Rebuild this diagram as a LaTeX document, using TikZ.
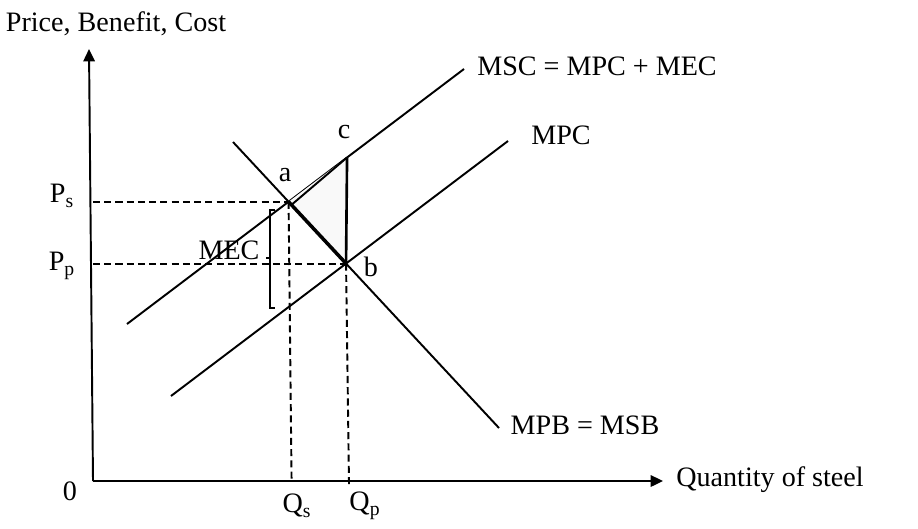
\documentclass[tikz,border=0pt]{standalone}
\usepackage{fontspec}
\setmainfont{Liberation Serif}
\usetikzlibrary{positioning}
\usetikzlibrary{intersections}
\usetikzlibrary{calc}
\usetikzlibrary{arrows.meta}

\begin{document}
\begin{tikzpicture}
	[x=0.02cm, y=-0.02cm, line width=1.1pt,
	txt/.style={inner sep=0pt, font=\fontsize{16}{18}\selectfont},
	guide/.style={line width=1.1pt, dash pattern=on 4pt off 2.4pt},
	axis/.style={-{Triangle[length=7pt, width=6.5pt]}}]
	\useasboundingbox (0,0) rectangle (918,528);

	% axes
	\coordinate (o) at (93,481);
	\coordinate (ytop) at (89,49);
	\coordinate (xend) at (663,481);
	\draw[axis] (o) -- (ytop);
	\draw[axis] (o) -- (xend);
	\node[txt] (yname) at (116,24) {Price, Benefit, Cost};
	\node[txt] (xname) at (770,480) {Quantity of steel};
	\node[txt] (zero) at (70,491) {0};

	% curves
	\coordinate (msc1) at (127,324);
	\coordinate (msc2) at (464,69);
	\coordinate (mpc1) at (171,396);
	\coordinate (mpc2) at (508,141);
	\coordinate (mpb1) at (233,142);
	\coordinate (mpb2) at (499,428);
	\draw[name path=msc] (msc1) -- (msc2);
	\draw[name path=mpc] (mpc1) -- (mpc2);
	\draw[name path=mpb] (mpb1) -- (mpb2);
	\node[txt] (mscname) at (597,66) {MSC = MPC + MEC};
	\node[txt] (mpcname) at (561,135) {MPC};
	\node[txt] (mpbname) at (585,425) {MPB = MSB};

	\path[name intersections={of=msc and mpb, by=a}];
	\path[name intersections={of=mpc and mpb, by=b}];
	\coordinate (c) at ($(msc1)!0.653!(msc2)$);

	% triangle abc
	\fill[gray!5] (a) -- (c) -- (b) -- cycle;
	\draw ($(a)+(3,3)$) -- (c);
	\draw[line width=1.5pt] (c) -- (b);
	\draw[line width=2pt] (a) -- (b);
	\node[txt] (la) at (285,175) {a};
	\node[txt] (lb) at (371,267) {b};
	\node[txt] (lc) at (344,132) {c};

	% price and quantity guides
	\draw[guide] (a -| o) -- (a);
	\draw[guide] (b -| o) -- (b);
	\draw[guide] (a) -- ($(a |- o)+(3,0)$);
	\draw[guide] (b) -- ($(b |- o)+(3,7)$);
	\node[txt] (ps) at (62,196) {P\textsubscript{s}};
	\node[txt] (pp) at (62,266) {P\textsubscript{p}};
	\node[txt] (qs) at (297,506) {Q\textsubscript{s}};
	\node[txt] (qp) at (365,506) {Q\textsubscript{p}};

	% MEC bracket
	\coordinate (mectop) at (270,210);
	\coordinate (mecbot) at (270,308);
	\coordinate (mecmid) at (270,258);
	\draw[line width=0.9pt] ($(mectop)+(5,0)$) -- (mectop) -- (mecbot) -- ($(mecbot)+(5,0)$);
	\draw[line width=0.9pt] (mecmid) -- ($(mecmid)+(-4,0)$);
	\node[txt] (mec) at (229,250) {MEC};
\end{tikzpicture}
\end{document}
